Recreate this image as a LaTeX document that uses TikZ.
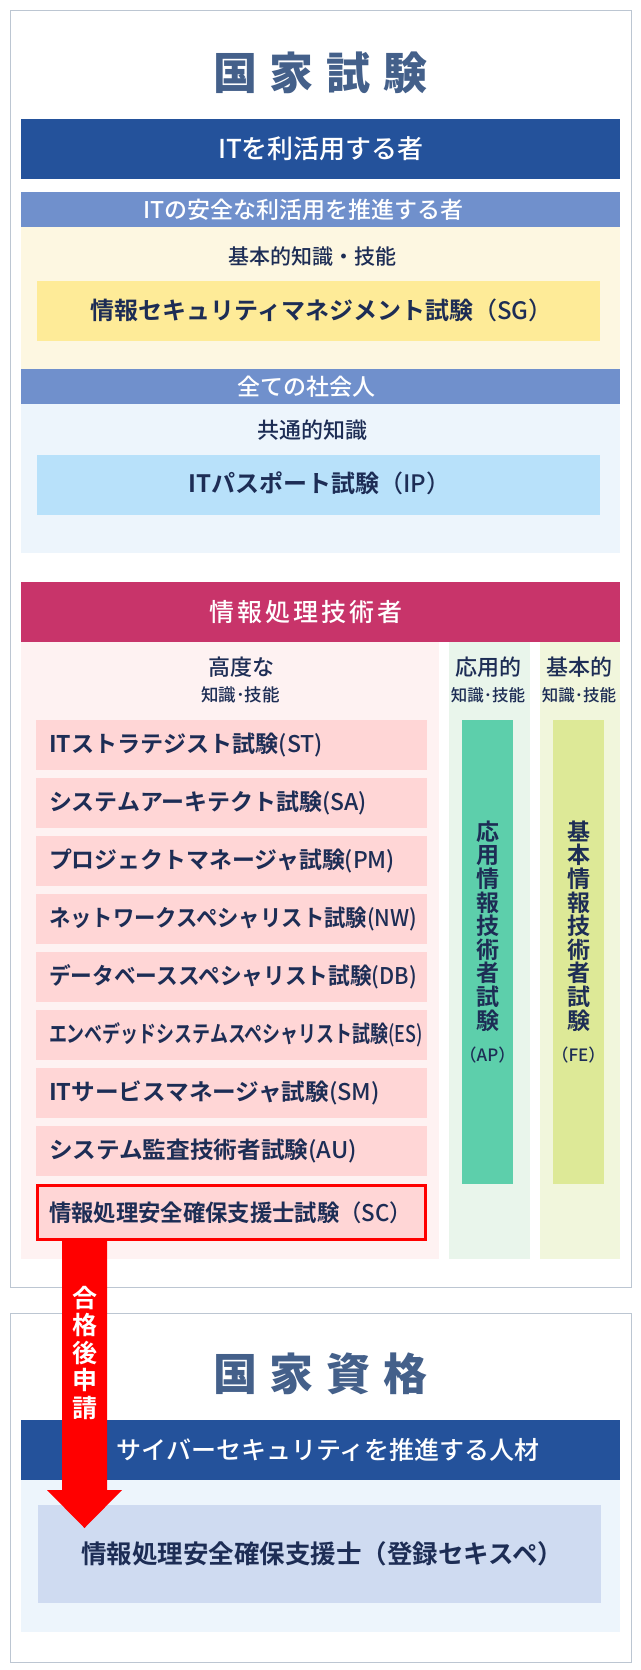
\documentclass[tikz,border=0pt]{standalone}
\usepackage{fontspec}
\setmainfont{Noto Sans CJK JP}[UprightFont={* Medium},BoldFont={* Bold}]
\newfontfamily\heavyjp{Noto Sans CJK JP Black}
\usepackage{graphicx}
\usetikzlibrary{calc}
\definecolor{bordc}{HTML}{BCC6D2}
\definecolor{titlec}{HTML}{44608A}
\definecolor{darkbar}{HTML}{24529B}
\definecolor{midbar}{HTML}{7090CC}
\definecolor{cream}{HTML}{FDF7E1}
\definecolor{sgbox}{HTML}{FEEB98}
\definecolor{paleblue}{HTML}{EDF5FC}
\definecolor{ipbox}{HTML}{B8E1FA}
\definecolor{crimson}{HTML}{C8346A}
\definecolor{pinkarea}{HTML}{FEF2F2}
\definecolor{pinkbox}{HTML}{FFD6D6}
\definecolor{mintarea}{HTML}{E9F5EB}
\definecolor{greenbar}{HTML}{5DCFAB}
\definecolor{limearea}{HTML}{F1F6DC}
\definecolor{limebar}{HTML}{DDE997}
\definecolor{regboxc}{HTML}{CFDBF1}
\definecolor{navy}{HTML}{1D2D55}
\definecolor{arrred}{HTML}{FF0000}
\newcommand\fitw[2]{\resizebox{#1pt}{\height}{#2}}
\newcommand\rg[1]{{\mdseries #1}}
\begin{document}
\begin{tikzpicture}[x=1pt,y=-1pt,
  every node/.style={inner sep=0pt,outer sep=0pt},
  txt/.style={text=navy,font=\fontsize{#1pt}{#1pt}\selectfont},
  btxt/.style={text=navy,font=\fontsize{#1pt}{#1pt}\selectfont\bfseries},
  wtxt/.style={text=white,font=\fontsize{#1pt}{#1pt}\selectfont},
  ttl/.style={text=titlec,font=\fontsize{44pt}{44pt}\heavyjp},
  vtxt/.style={text=navy,align=center,font=\fontsize{23pt}{23.6pt}\selectfont\bfseries},
  frame/.style={draw=bordc,line width=1pt},
  rowtext/.style={btxt=23,anchor=west}]
\useasboundingbox (0,0) rectangle (640,1670);
\fill[white] (0,0) rectangle (640,1670);

% ---------- box 1 ----------
\draw[frame] (10.5,10.5) rectangle (631.5,1287);
\node[ttl] (t1) at (320.5,73) {国\hspace{13pt}家\hspace{13pt}試\hspace{13pt}験};

\fill[darkbar] (21,119) rectangle (620,179);
\node[wtxt=26] (b1) at (321,149) {ITを利活用する者};

\fill[midbar] (21,192) rectangle (620,227);
\node[wtxt=23] (b2) at (303.5,210) {ITの安全な利活用を推進する者};
\fill[cream] (21,227) rectangle (620,369);
\node[txt=21] (k1) at (312,256.5) {基本的知識・技能};
\fill[sgbox] (37,281) rectangle (600,341);
\node[btxt=24] (sg) at (321.5,310.5) {情報セキュリティマネジメント試験\rg{（SG）}};

\fill[midbar] (21,369) rectangle (620,404);
\node[wtxt=23] (b3) at (306,387) {全ての社会人};
\fill[paleblue] (21,404) rectangle (620,553);
\node[txt=22] (k2) at (312,430) {共通的知識};
\fill[ipbox] (37,455) rectangle (600,515);
\node[btxt=24] (ip) at (319.5,483.5) {ITパスポート試験\rg{（IP）}};

\fill[crimson] (21,582) rectangle (620,642);
\node[wtxt=25] (b5) at (305.5,612) {情\hspace{3pt}報\hspace{3pt}処\hspace{3pt}理\hspace{3pt}技\hspace{3pt}術\hspace{3pt}者};

\fill[pinkarea] (21,642) rectangle (439,1259);
\fill[mintarea] (449,642) rectangle (530,1259);
\fill[limearea] (540,642) rectangle (620,1259);

\node[txt=22] (adv1) at (241,667) {高度な};
\node[txt=17.5] (adv2) at (240.5,694.5) {知識･技能};
\node[txt=22] (app1) at (488,667) {応用的};
\node[txt=16.5] (app2) at (488,695) {知識･技能};
\node[txt=22] (fun1) at (579,667) {基本的};
\node[txt=16.5] (fun2) at (579,695) {知識･技能};

% pink rows
\fill[pinkbox] (36,720) rectangle (427,770);
\node[rowtext] (st) at (49,745) {\fitw{274}{ITストラテジスト試験\rg{(ST)}}};
\fill[pinkbox] (36,778) rectangle (427,828);
\node[rowtext] (sa) at (49,803) {\fitw{318}{システムアーキテクト試験\rg{(SA)}}};
\fill[pinkbox] (36,836) rectangle (427,886);
\node[rowtext] (pm) at (49,861) {\fitw{346}{プロジェクトマネージャ試験\rg{(PM)}}};
\fill[pinkbox] (36,894) rectangle (427,944);
\node[rowtext] (nw) at (49,919) {\fitw{368}{ネットワークスペシャリスト試験\rg{(NW)}}};
\fill[pinkbox] (36,952) rectangle (427,1002);
\node[rowtext] (db) at (49,977) {\fitw{368}{データベーススペシャリスト試験\rg{(DB)}}};
\fill[pinkbox] (36,1010) rectangle (427,1060);
\node[rowtext] (es) at (49,1035) {\fitw{374}{エンベデッドシステムスペシャリスト試験\rg{(ES)}}};
\fill[pinkbox] (36,1068) rectangle (427,1118);
\node[rowtext] (sm) at (49,1093) {\fitw{331}{ITサービスマネージャ試験\rg{(SM)}}};
\fill[pinkbox] (36,1126) rectangle (427,1176);
\node[rowtext] (au) at (49,1151) {\fitw{308}{システム監査技術者試験\rg{(AU)}}};
\node[draw=arrred,line width=3pt,fill=pinkbox,minimum width=388pt,minimum height=54pt,anchor=north west] (scbox) at (37.5,1185.5) {};
\node[rowtext] (sc) at (49,1212.5) {\fitw{363}{情報処理安全確保支援士試験\rg{（SC）}}};

% vertical bars
\fill[greenbar] (462,720) rectangle (512.5,1184);
\node[vtxt] (apv) at (487.5,926) {応\\用\\情\\報\\技\\術\\者\\試\\験};
\node[txt=17] (ap) at (487.5,1055) {（AP）};
\fill[limebar] (553,720) rectangle (604,1184);
\node[vtxt] (fev) at (578.5,926) {基\\本\\情\\報\\技\\術\\者\\試\\験};
\node[txt=17] (fe) at (578.5,1055) {（FE）};

% ---------- box 2 ----------
\draw[frame] (10.5,1313) rectangle (631.5,1662);
\node[ttl] (t2) at (320.5,1374) {国\hspace{13pt}家\hspace{13pt}資\hspace{13pt}格};
\fill[darkbar] (21,1420) rectangle (620,1480);
\node[wtxt=25] (b4) at (328,1450) {サイバーセキュリティを推進する人材};
\fill[paleblue] (21,1480) rectangle (620,1632);
\fill[regboxc] (38,1505) rectangle (601,1603);
\node[btxt=25.5] (reg) at (322,1553.5) {情報処理安全確保支援士（登録セキスペ）};

% ---------- red arrow ----------
\coordinate (arrs) at (scbox.south -| 84.5,0);
\coordinate (arre) at (84.5,1528);
\fill[arrred] ($(arrs)+(-22.5,0)$) -- ($(arrs)+(22.5,0)$) -- ($(arre)+(22.5,-38)$) -- ($(arre)+(37.5,-38)$) -- (arre) -- ($(arre)+(-37.5,-38)$) -- ($(arre)+(-22.5,-38)$) -- cycle;
\node[text=white,align=center,font=\fontsize{25pt}{27.5pt}\selectfont\bfseries] (pass) at (84.5,1352.5) {合\\格\\後\\申\\請};
\end{tikzpicture}
\end{document}
